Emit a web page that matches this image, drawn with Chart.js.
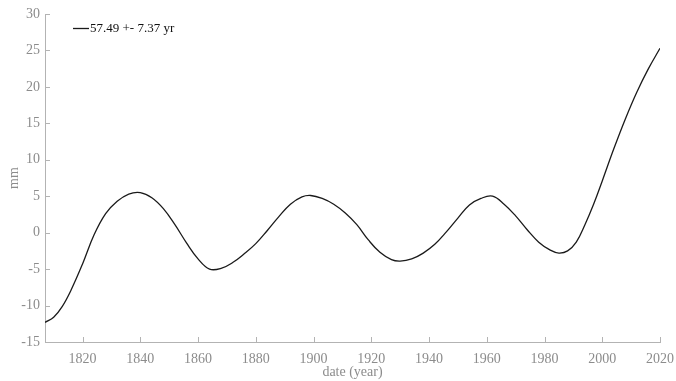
<!DOCTYPE html>
<html>
<head>
<meta charset="utf-8">
<title>57.49 +- 7.37 yr</title>
<script src="https://cdn.jsdelivr.net/npm/chart.js@4/dist/chart.umd.min.js"></script>
<style>
  html, body { margin: 0; padding: 0; background: #ffffff; }
  #wrap { position: relative; width: 676px; height: 381px; }
</style>
</head>
<body>
<div id="wrap"><canvas id="chart"></canvas></div>
<script>
// Periodic component of the sea-level record (mm), one value per sample year
const seriesLabel = '57.49 +- 7.37 yr';
const years = [1807, 1810, 1813, 1816, 1820, 1824, 1828, 1832, 1836, 1840,
               1844, 1848, 1852, 1856, 1860, 1864, 1868, 1872, 1876, 1880,
               1884, 1888, 1892, 1896, 1899, 1903, 1907, 1911, 1915, 1919,
               1923, 1927, 1930, 1934, 1938, 1942, 1946, 1950, 1954, 1958,
               1962, 1966, 1970, 1974, 1978, 1982, 1985, 1988, 1991, 1994,
               1997, 2000, 2004, 2008, 2012, 2016, 2020];
const values = [-12.3, -11.6, -10.1, -7.9, -4.3, -0.3, 2.6, 4.3, 5.3, 5.5,
                4.8, 3.3, 1.1, -1.4, -3.6, -5.0, -4.9, -4.1, -2.9, -1.5,
                0.3, 2.2, 3.9, 4.9, 5.1, 4.7, 3.9, 2.7, 1.1, -1.0,
                -2.7, -3.7, -3.9, -3.6, -2.8, -1.6, 0.1, 2.0, 3.8, 4.7,
                5.0, 3.9, 2.3, 0.4, -1.3, -2.4, -2.8, -2.5, -1.3, 1.1,
                3.9, 7.1, 11.5, 15.6, 19.3, 22.5, 25.3];
const xTicks = [1820, 1840, 1860, 1880, 1900, 1920, 1940, 1960, 1980, 2000, 2020];
const yTicks = [-15, -10, -5, 0, 5, 10, 15, 20, 25, 30];

const axisGray = '#b3b3b3';
const labelGray = '#8c8c8c';
const serif = "'Liberation Serif', 'Times New Roman', serif";

// Short tick marks pointing into the plot area
const innerTicks = {
  id: 'innerTicks',
  afterDraw(chart) {
    const { ctx, chartArea, scales } = chart;
    ctx.save();
    ctx.strokeStyle = axisGray;
    ctx.lineWidth = 1;
    ctx.beginPath();
    for (const t of scales.x.ticks) {
      const px = Math.round(scales.x.getPixelForValue(t.value)) + 0.5;
      ctx.moveTo(px, chartArea.bottom);
      ctx.lineTo(px, chartArea.bottom - 5);
    }
    for (const t of scales.y.ticks) {
      const py = Math.round(scales.y.getPixelForValue(t.value)) + 0.5;
      ctx.moveTo(chartArea.left, py);
      ctx.lineTo(chartArea.left + 5, py);
    }
    ctx.stroke();
    ctx.restore();
  }
};

// Legend entry drawn inside the top-left corner of the plot
const innerLegend = {
  id: 'innerLegend',
  afterDraw(chart) {
    const { ctx, chartArea } = chart;
    const ds = chart.data.datasets[0];
    const x0 = chartArea.left + 28;
    const y0 = chartArea.top + 14.5;
    ctx.save();
    ctx.strokeStyle = ds.borderColor;
    ctx.lineWidth = 1.3;
    ctx.beginPath();
    ctx.moveTo(x0, y0);
    ctx.lineTo(x0 + 16, y0);
    ctx.stroke();
    ctx.fillStyle = '#111111';
    ctx.font = "13px " + serif;
    ctx.textBaseline = 'middle';
    ctx.textAlign = 'left';
    ctx.fillText(ds.label, x0 + 17, y0);
    ctx.restore();
  }
};

new Chart(document.getElementById('chart'), {
  type: 'line',
  data: {
    datasets: [{
      label: seriesLabel,
      data: years.map((yr, i) => ({ x: yr, y: values[i] })),
      borderColor: '#1a1a1a',
      borderWidth: 1.3,
      pointRadius: 0,
      fill: false,
      tension: 0.4
    }]
  },
  options: {
    responsive: true,
    maintainAspectRatio: false,
    devicePixelRatio: 1,
    animation: false,
    layout: { padding: { left: 0, top: 14, right: 16, bottom: 0 } },
    plugins: {
      legend: { display: false },
      tooltip: { enabled: false }
    },
    scales: {
      x: {
        type: 'linear',
        min: 1807,
        max: 2020,
        afterBuildTicks: s => { s.ticks = xTicks.map(v => ({ value: v })); },
        afterFit: s => { s.height = 39; s.paddingRight = 0; s.paddingLeft = 0; },
        grid: { display: false, drawTicks: false },
        border: { display: true, color: axisGray, width: 1 },
        ticks: {
          autoSkip: false,
          maxRotation: 0,
          padding: 9,
          color: labelGray,
          font: { family: serif, size: 14 },
          callback: v => String(v)
        },
        title: {
          display: true,
          text: 'date (year)',
          color: labelGray,
          font: { family: serif, size: 14 },
          padding: { top: 0, bottom: 0 }
        }
      },
      y: {
        type: 'linear',
        min: -15,
        max: 30,
        afterBuildTicks: s => { s.ticks = yTicks.map(v => ({ value: v })); },
        afterFit: s => { s.width = 45; s.paddingTop = 0; s.paddingBottom = 0; },
        grid: { display: false, drawTicks: false },
        border: { display: true, color: axisGray, width: 1 },
        ticks: {
          padding: 5,
          color: labelGray,
          font: { family: serif, size: 14 }
        },
        title: {
          display: true,
          text: 'mm',
          color: labelGray,
          font: { family: serif, size: 14 },
          padding: { top: 6, bottom: 0 }
        }
      }
    }
  },
  plugins: [innerTicks, innerLegend]
});
</script>
</body>
</html>
